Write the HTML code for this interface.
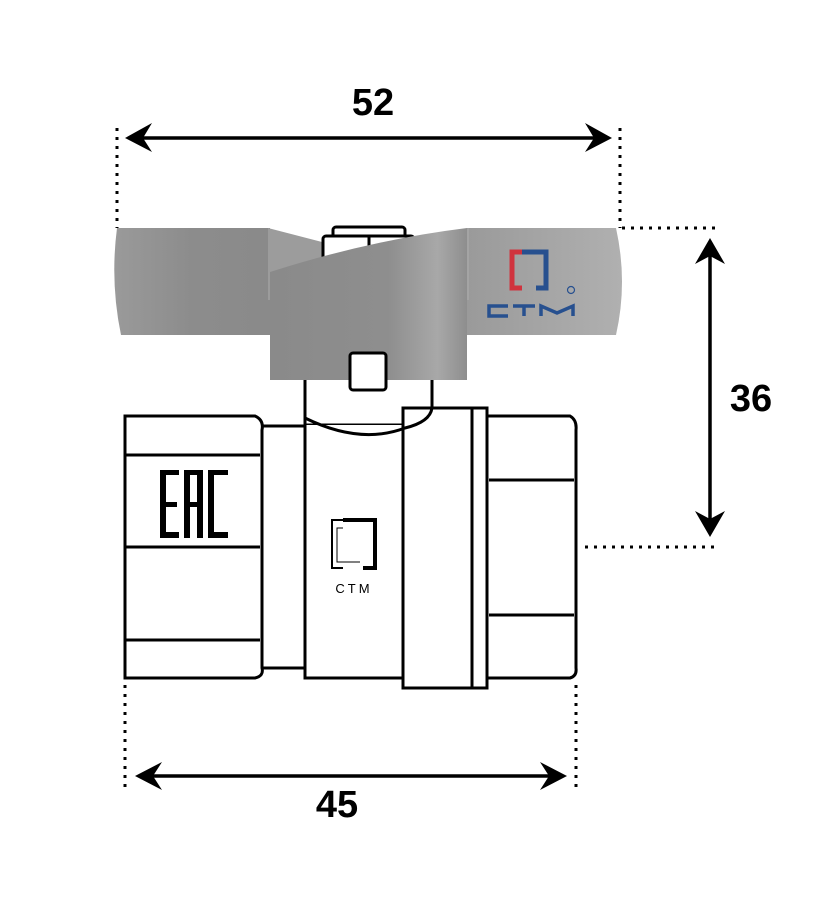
<!DOCTYPE html>
<html><head><meta charset="utf-8"><style>html,body{margin:0;padding:0;background:#fff}svg{display:block}</style></head>
<body>
<svg width="821" height="900" viewBox="0 0 821 900" xmlns="http://www.w3.org/2000/svg">
<defs>
<linearGradient id="g1" x1="0" x2="1"><stop offset="0" stop-color="#9a9a9a"/><stop offset="0.5" stop-color="#8c8c8c"/><stop offset="1" stop-color="#8a8a8a"/></linearGradient>
<linearGradient id="g2" x1="0" x2="1"><stop offset="0" stop-color="#8a8a8a"/><stop offset="0.6" stop-color="#8e8e8e"/><stop offset="0.85" stop-color="#a8a8a8"/><stop offset="1" stop-color="#8e8e8e"/></linearGradient>
<linearGradient id="g3" x1="0" x2="1"><stop offset="0" stop-color="#9a9a9a"/><stop offset="1" stop-color="#b0b0b0"/></linearGradient>
</defs>
<g stroke="#000" stroke-width="3" stroke-dasharray="3,6" fill="none">
<line x1="117" y1="128" x2="117" y2="228"/>
<line x1="620" y1="128" x2="620" y2="228"/>
<line x1="622" y1="228" x2="718" y2="228"/>
<line x1="585" y1="547" x2="718" y2="547"/>
<line x1="125" y1="685" x2="125" y2="788"/>
<line x1="576" y1="685" x2="576" y2="788"/>
</g>
<g stroke="#000" stroke-width="3.5">
<line x1="135" y1="138" x2="600" y2="138"/>
<line x1="710" y1="250" x2="710" y2="527"/>
<line x1="145" y1="776" x2="557" y2="776"/>
</g>
<g fill="#000">
<path d="M125,138 L152,123 L143,138 L152,152Z"/>
<path d="M612,138 L585,123 L594,138 L585,152Z"/>
<path d="M710,238 L695,264 L710,256 L725,264Z"/>
<path d="M710,537 L695,511 L710,519 L725,511Z"/>
<path d="M135,776 L162,762 L153,776 L162,790Z"/>
<path d="M567,776 L540,762 L549,776 L540,790Z"/>
</g>
<g font-family="Liberation Sans, sans-serif" font-weight="bold" font-size="38" fill="#000" text-anchor="middle">
<text x="373" y="115">52</text>
<text x="751" y="411">36</text>
<text x="337" y="817">45</text>
</g>
<!-- stem lower -->
<g stroke="#000" stroke-width="3" fill="#fff">
<path d="M305,360 L305,425 L432,425 L432,360"/>
</g>
<!-- handle wings -->
<path d="M117,228 L270,228 L270,335 L121,335 Q110,282 117,228Z" fill="url(#g1)"/>
<path d="M467,228 L616,228 Q628,282 616,335 L467,335Z" fill="url(#g3)"/>
<path d="M268,228 L322,242 L322,300 L268,300Z" fill="#9c9c9c"/>
<path d="M413,242 L469,228 L469,300 L413,300Z" fill="#a4a4a4"/>
<!-- stem cap -->
<g stroke="#000" stroke-width="3" fill="#fff">
<rect x="333" y="227" width="72" height="14" rx="3"/>
<rect x="323" y="236" width="91" height="40" rx="3"/>
<line x1="369" y1="236" x2="369" y2="276"/>
</g>
<path d="M270,272 Q370,240 467,228 L467,380 L270,380Z" fill="url(#g2)"/>
<rect x="350" y="353" width="36" height="37" rx="3" fill="#fff" stroke="#000" stroke-width="3"/>
<!-- handle logo -->
<g fill="none" stroke-width="5">
<path d="M522,252 L512,252 L512,288 L522,288" stroke="#d0333e"/>
<path d="M522,252 L546,252 L546,288 L536,288" stroke="#27508f"/>
</g>
<circle cx="571" cy="290" r="3.5" fill="none" stroke="#27508f" stroke-width="1.2"/>
<g stroke="#27508f" stroke-width="3.5" fill="none">
<path d="M508,306 L489,306 L489,316 L508,316"/>
<path d="M513,306 L535,306 M524,306 L524,316"/>
<path d="M541,316 L541,306 L557,313 L573,306 L573,316"/>
</g>
<!-- body -->
<g stroke="#000" stroke-width="3" fill="#fff">
<rect x="262" y="426" width="43" height="242"/>
<rect x="403" y="408" width="84" height="280"/>
<line x1="472" y1="408" x2="472" y2="688"/>
<path d="M305,425 L305,678 L403,678 L403,425"/>
<path d="M305,418 Q360,445 405,428 Q430,422 432,408" fill="none"/>
<path d="M125,416 L255,416 Q264,420 262,430 L262,668 Q264,676 255,678 L125,678Z"/>
<line x1="125" y1="455" x2="260" y2="455"/>
<line x1="125" y1="547" x2="260" y2="547"/>
<line x1="125" y1="640" x2="260" y2="640"/>
<path d="M487,416 L570,416 Q577,420 576,430 L576,668 Q577,676 570,678 L487,678Z"/>
<line x1="489" y1="480" x2="574" y2="480"/>
<line x1="489" y1="615" x2="574" y2="615"/>
</g>
<!-- EAC -->
<g fill="#000">
<path d="M160,470 L179,470 L179,475 L166,475 L166,502 L177,502 L177,507 L166,507 L166,532 L179,532 L179,538 L160,538Z"/>
<path d="M184,538 L184,470 L203,470 L203,538 L197,538 L197,507 L190,507 L190,538Z M190,475 L190,502 L197,502 L197,475Z"/>
<path d="M208,470 L228,470 L228,475 L214,475 L214,532 L228,532 L228,538 L208,538Z"/>
</g>
<!-- body logo -->
<g fill="none" stroke="#000">
<path d="M343,520 L332,520 L332,568 L343,568" stroke-width="2"/>
<path d="M343,520 L375,520 L375,568 L363,568" stroke-width="4"/>
<path d="M343,528 L337,528 L337,562 L360,562" stroke-width="1"/>
</g>
<text x="354" y="593" font-family="Liberation Sans, sans-serif" font-size="13" letter-spacing="3" text-anchor="middle" fill="#000">CTM</text>
</svg>
</body></html>
